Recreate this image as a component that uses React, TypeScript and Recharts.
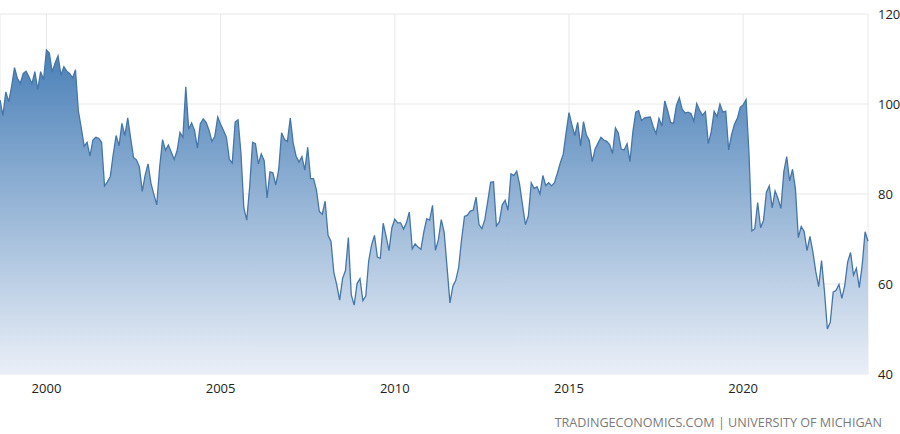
import { AreaChart, Area, XAxis, YAxis, CartesianGrid } from 'recharts';

// Monthly consumer sentiment, Sep 1998 .. Aug 2023
const startYear = 1998;
const startMonth = 9;
const sentiment: number[] = [
    100.9, 97.4, 102.7, 100.5,
    103.9, 108.1, 105.7, 104.6, 106.8, 107.3, 106.0, 104.5, 107.2, 103.2, 107.2, 105.4,
    112.0, 111.3, 107.1, 109.2, 110.7, 106.4, 108.3, 107.3, 106.8, 105.8, 107.6, 98.4,
    94.7, 90.6, 91.5, 88.4, 92.0, 92.6, 92.4, 91.5, 81.8, 82.7, 83.9, 88.8,
    93.0, 90.7, 95.7, 93.0, 96.9, 92.4, 88.1, 87.6, 86.1, 80.6, 84.2, 86.7,
    82.4, 79.9, 77.6, 86.0, 92.1, 89.7, 90.9, 89.3, 87.7, 89.6, 93.7, 92.6,
    103.8, 94.4, 95.8, 94.2, 90.2, 95.6, 96.7, 95.9, 94.2, 91.7, 92.8, 97.1,
    95.5, 94.1, 92.6, 87.7, 86.9, 96.0, 96.5, 89.1, 76.9, 74.2, 81.6, 91.5,
    91.2, 86.7, 88.9, 87.4, 79.1, 84.9, 84.7, 82.0, 85.4, 93.6, 92.1, 91.7,
    96.9, 91.3, 88.4, 87.1, 88.3, 85.3, 90.4, 83.4, 83.4, 80.9, 76.1, 75.5,
    78.4, 70.8, 69.5, 62.6, 59.8, 56.4, 61.2, 63.0, 70.3, 57.6, 55.3, 60.1,
    61.2, 56.3, 57.3, 65.1, 68.7, 70.8, 66.0, 65.7, 73.5, 70.6, 67.4, 72.5,
    74.4, 73.6, 73.6, 72.2, 73.6, 76.0, 67.8, 68.9, 68.2, 67.7, 71.6, 74.5,
    74.2, 77.5, 67.5, 69.8, 74.3, 71.5, 63.7, 55.8, 59.5, 60.8, 63.7, 69.9,
    75.0, 75.3, 76.2, 76.4, 79.3, 73.2, 72.3, 74.3, 78.3, 82.6, 82.7, 72.9,
    73.8, 77.6, 78.6, 76.4, 84.5, 84.1, 85.1, 82.1, 77.5, 73.2, 75.1, 82.5,
    81.2, 81.6, 80.0, 84.1, 81.9, 82.5, 81.8, 82.5, 84.6, 86.9, 88.8, 93.6,
    98.1, 95.4, 93.0, 95.9, 90.7, 96.1, 93.1, 91.9, 87.2, 90.0, 91.3, 92.6,
    92.0, 91.7, 91.0, 89.0, 94.7, 93.5, 90.0, 89.8, 91.2, 87.2, 93.8, 98.2,
    98.5, 96.3, 96.9, 97.0, 97.1, 95.0, 93.4, 96.8, 95.1, 100.7, 98.5, 95.9,
    95.7, 99.7, 101.4, 98.8, 98.0, 98.2, 97.9, 96.2, 100.1, 98.6, 97.5, 98.3,
    91.2, 93.8, 98.4, 97.2, 100.0, 98.2, 98.4, 89.8, 93.2, 95.5, 96.8, 99.3,
    99.8, 101.0, 89.1, 71.8, 72.3, 78.1, 72.5, 74.1, 80.4, 81.8, 76.9, 80.7,
    79.0, 76.8, 84.9, 88.3, 82.9, 85.5, 81.2, 70.3, 72.8, 71.7, 67.4, 70.6,
    67.2, 62.8, 59.4, 65.2, 58.4, 50.0, 51.5, 58.2, 58.6, 59.9, 56.8, 59.7,
    64.9, 67.0, 62.0, 63.5, 59.2, 64.2, 71.6, 69.5,
];
const xTicks = [2000, 2005, 2010, 2015, 2020];
const yTicks = [40, 60, 80, 100, 120];
const source = 'TRADINGECONOMICS.COM | UNIVERSITY OF MICHIGAN';

const data = sentiment.map((value, i) => ({
    t: startYear + (startMonth - 1 + i) / 12,
    value,
}));

const font = '"Open Sans", "DejaVu Sans", sans-serif';

export default function App() {
    const first = data[0].t;
    const last = data[data.length - 1].t;
    return (
        <div style={{ position: 'absolute', left: 0, top: 0, width: 900, height: 434, background: '#fff', fontFamily: font }}>
            <AreaChart width={900} height={434} data={data} margin={{ top: 14, right: 0, bottom: 0, left: 0 }}>
                <defs>
                    <linearGradient id="fillSent" x1="0" y1="0" x2="0" y2="1">
                        <stop offset="0%" stopColor="#4a80b8" stopOpacity={1} />
                        <stop offset="100%" stopColor="#eaeff7" stopOpacity={1} />
                    </linearGradient>
                </defs>
                <CartesianGrid stroke="#e8e8e8" />
                <XAxis
                    dataKey="t"
                    type="number"
                    domain={[first, last]}
                    ticks={xTicks}
                    height={60}
                    tickLine={false}
                    axisLine={false}
                    tick={{ fill: '#222', fontSize: 13, fontFamily: font }}
                    tickMargin={4}
                />
                <YAxis
                    orientation="right"
                    domain={[40, 120]}
                    ticks={yTicks}
                    width={32}
                    tickLine={false}
                    axisLine={false}
                    tick={{ fill: '#222', fontSize: 13, fontFamily: font }}
                    tickMargin={4}
                />
                <Area
                    type="linear"
                    dataKey="value"
                    stroke="#4676a8"
                    strokeWidth={1.3}
                    fill="url(#fillSent)"
                    fillOpacity={1}
                    baseValue={40}
                    isAnimationActive={false}
                    dot={false}
                    activeDot={false}
                />
            </AreaChart>
            <div style={{ position: 'absolute', right: 18, top: 414, fontSize: 12.6, color: '#7a7a7a', whiteSpace: 'nowrap' }}>
                {source}
            </div>
        </div>
    );
}
